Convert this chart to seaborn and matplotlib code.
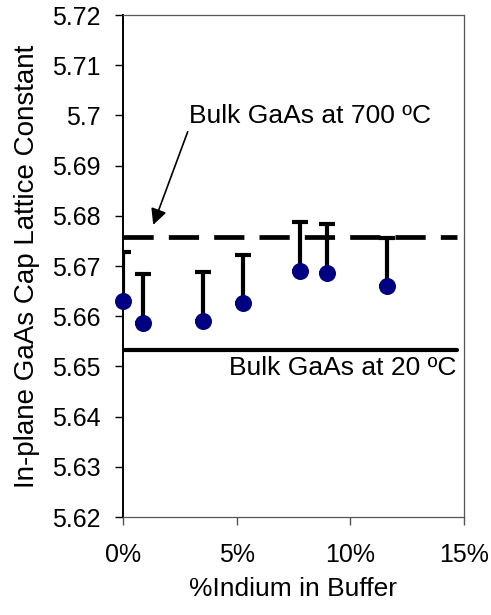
import matplotlib
matplotlib.use("Agg")
import matplotlib.pyplot as plt
import seaborn as sns
import numpy as np
import pandas as pd

# Indium fraction in the buffer and measured in-plane cap lattice constant
indium = [0.0, 0.009, 0.0353, 0.0527, 0.0779, 0.0896, 0.116]
lattice = [5.6630, 5.6587, 5.6591, 5.6626, 5.6691, 5.6687, 5.6661]
upper_err = [0.0097, 0.0098, 0.0098, 0.0095, 0.0097, 0.0097, 0.0094]

# Reference bulk GaAs lattice constants
bulk_700 = 5.6758
bulk_20 = 5.6533
ref_x = [0.0, 0.147]

x_ticks = [0.0, 0.05, 0.10, 0.15]
x_tick_labels = ["0%", "5%", "10%", "15%"]
y_ticks = [5.62, 5.63, 5.64, 5.65, 5.66, 5.67, 5.68, 5.69, 5.70, 5.71, 5.72]
y_tick_labels = ["5.62", "5.63", "5.64", "5.65", "5.66", "5.67", "5.68",
                 "5.69", "5.7", "5.71", "5.72"]

df = pd.DataFrame({"indium": indium, "lattice": lattice, "err": upper_err})

sns.set_theme(style="white")
plt.rcParams["font.family"] = ["Liberation Sans", "DejaVu Sans"]
plt.rcParams["text.color"] = "black"
plt.rcParams["axes.labelcolor"] = "black"
plt.rcParams["xtick.color"] = "black"
plt.rcParams["ytick.color"] = "black"

fig = plt.figure(figsize=(4.91, 6.15), dpi=100)
ax = fig.add_axes([0.2505, 0.1593, 0.6945, 0.8163])

# Reference lines
sns.lineplot(x=ref_x, y=[bulk_700, bulk_700], ax=ax, color="black",
             linewidth=3.4, dashes=False, zorder=2)
ax.lines[-1].set_dashes([6.4, 3.2])
sns.lineplot(x=ref_x, y=[bulk_20, bulk_20], ax=ax, color="black",
             linewidth=3.0, zorder=2)

# Upper-only error bars
ax.errorbar(df["indium"], df["lattice"],
            yerr=[np.zeros(len(df)), df["err"]],
            fmt="none", ecolor="black", elinewidth=3.0,
            capsize=6, capthick=3.0, zorder=3)

# Data points
sns.scatterplot(data=df, x="indium", y="lattice", ax=ax, s=150,
                color="#000080", edgecolor="#000080", linewidth=0,
                zorder=4, clip_on=False)

ax.set_xlim(0, 0.15)
ax.set_ylim(5.62, 5.72)
ax.set_xticks(x_ticks)
ax.set_xticklabels(x_tick_labels)
ax.set_yticks(y_ticks)
ax.set_yticklabels(y_tick_labels)

ax.tick_params(axis="y", direction="out", length=6, width=1, color="black",
               labelcolor="black", labelsize=18, pad=10, left=True)
ax.tick_params(axis="x", direction="out", length=6, width=1, color="#555555",
               labelcolor="black", labelsize=18, pad=13, bottom=True)

ax.set_xlabel("%Indium in Buffer", fontsize=19, labelpad=7, color="black")
ax.set_ylabel("In-plane GaAs Cap Lattice Constant", fontsize=20,
              labelpad=9, color="black")

for side in ["top", "right", "bottom"]:
    ax.spines[side].set_color("#555555")
    ax.spines[side].set_linewidth(0.9)
ax.spines["left"].set_color("black")
ax.spines["left"].set_linewidth(1.4)

ax.annotate("Bulk GaAs at 700 ºC", xy=(0.0133, 5.6782),
            xytext=(0.029, 5.6984), fontsize=19, ha="left", va="baseline",
            color="black",
            arrowprops=dict(arrowstyle="-|>", color="black", lw=1.2,
                            mutation_scale=24, shrinkA=0, shrinkB=0,
                            relpos=(0.0, 0.0)))
ax.text(0.1468, 5.6483, "Bulk GaAs at 20 ºC", fontsize=19, color="black",
        ha="right", va="baseline")

fig.savefig("out.png", dpi=100)
